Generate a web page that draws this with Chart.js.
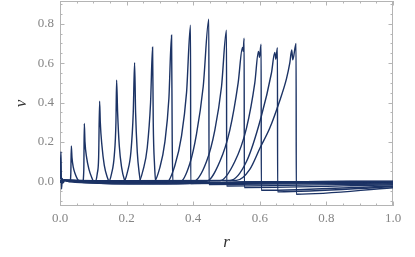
<!DOCTYPE html>
<html>
<head>
<meta charset="utf-8">
<script src="https://cdn.jsdelivr.net/npm/chart.js@4"></script>
<style>
  html, body { margin: 0; padding: 0; background: #fff; }
  #wrap { width: 415px; height: 257px; }
</style>
</head>
<body>
<div id="wrap"><canvas id="chart"></canvas></div>
<script>
// profiles v(r), one per time step as [r, v]
const curve00 = [[0, 0.01], [0.003, 0.15], [0.0045, -0.04], [0.007, 0.014], [0.01, -0.008], [0.014, 0.004], [0.03, -0.003], [0.2, -0.012], [0.35, -0.011], [0.6, -0.004], [1.0, -0.001]];
const curve01 = [[0, 0.004], [0.005, -0.008], [0.011, 0.004], [0.03, -0.002], [0.0325, 0.04], [0.034, 0.179], [0.036, 0.12], [0.040, 0.07], [0.046, 0.035], [0.052, 0.012], [0.06, -0.004], [0.2, -0.013], [0.35, -0.012], [0.6, -0.004], [1.0, -0.001]];
const curve02 = [[0, 0.004], [0.005, -0.007], [0.011, 0.004], [0.068, -0.003], [0.0715, 0.06], [0.073, 0.293], [0.075, 0.2], [0.08, 0.12], [0.087, 0.06], [0.095, 0.02], [0.103, -0.005], [0.25, -0.013], [0.38, -0.011], [0.6, -0.004], [1.0, -0.001]];
const curve03 = [[0, 0.004], [0.005, -0.008], [0.011, 0.004], [0.105, -0.004], [0.112, 0.04], [0.116, 0.12], [0.119, 0.407], [0.121, 0.3], [0.126, 0.18], [0.133, 0.08], [0.142, 0.02], [0.15, -0.006], [0.3, -0.012], [0.6, -0.004], [1.0, -0.002]];
const curve04 = [[0, 0.004], [0.005, -0.007], [0.011, 0.004], [0.145, -0.005], [0.155, 0.04], [0.163, 0.13], [0.168, 0.3], [0.170, 0.514], [0.173, 0.35], [0.178, 0.18], [0.185, 0.07], [0.193, 0.01], [0.2, -0.007], [0.32, -0.012], [0.6, -0.005], [1.0, -0.002]];
const curve05 = [[0, 0.004], [0.005, -0.008], [0.011, 0.004], [0.19, -0.007], [0.203, 0.05], [0.213, 0.15], [0.22, 0.35], [0.224, 0.603], [0.227, 0.35], [0.232, 0.15], [0.238, 0.04], [0.243, -0.008], [0.35, -0.012], [0.6, -0.005], [1.0, -0.002]];
const curve06 = [[0, 0.004], [0.005, -0.007], [0.011, 0.004], [0.235, -0.008], [0.25, 0.06], [0.262, 0.17], [0.272, 0.4], [0.278, 0.681], [0.28, 0.3], [0.284, 0.08], [0.288, -0.009], [0.4, -0.011], [0.7, -0.005], [1.0, -0.003]];
const curve07 = [[0, 0.004], [0.005, -0.008], [0.011, 0.004], [0.28, -0.008], [0.3, 0.07], [0.315, 0.2], [0.327, 0.42], [0.335, 0.742], [0.337, 0.2], [0.339, -0.009], [0.5, -0.009], [1.0, -0.004]];
const curve08 = [[0, 0.004], [0.005, -0.007], [0.011, 0.004], [0.2, -0.007], [0.32, -0.006], [0.345, 0.08], [0.365, 0.23], [0.38, 0.45], [0.392, 0.793], [0.3925, -0.012], [1.0, -0.006]];
const curve09 = [[0, 0.004], [0.005, -0.008], [0.011, 0.004], [0.2, -0.005], [0.36, -0.004], [0.39, 0.09], [0.41, 0.24], [0.43, 0.48], [0.447, 0.823], [0.4475, -0.017], [1.0, -0.009]];
const curve10 = [[0, 0.004], [0.005, -0.007], [0.011, 0.004], [0.2, -0.003], [0.40, -0.002], [0.44, 0.1], [0.465, 0.26], [0.485, 0.48], [0.50, 0.767], [0.5005, -0.024], [1.0, -0.013]];
const curve11 = [[0, 0.004], [0.005, -0.008], [0.011, 0.004], [0.2, -0.001], [0.44, 0.0], [0.48, 0.1], [0.51, 0.26], [0.535, 0.5], [0.548, 0.68], [0.55, 0.66], [0.553, 0.727], [0.5535, -0.032], [1.0, -0.018]];
const curve12 = [[0, 0.004], [0.005, -0.007], [0.011, 0.004], [0.2, 0.0], [0.48, 0.002], [0.525, 0.1], [0.56, 0.27], [0.585, 0.5], [0.596, 0.66], [0.599, 0.63], [0.604, 0.696], [0.6045, -0.046], [1.0, -0.024]];
const curve13 = [[0, 0.004], [0.005, -0.008], [0.011, 0.004], [0.2, 0.001], [0.51, 0.003], [0.56, 0.1], [0.603, 0.32], [0.635, 0.55], [0.645, 0.655], [0.648, 0.62], [0.653, 0.679], [0.6535, -0.054], [1.0, -0.028]];
const curve14 = [[0, 0.004], [0.005, -0.007], [0.011, 0.004], [0.2, 0.002], [0.53, 0.004], [0.57, 0.06], [0.601, 0.17], [0.63, 0.27], [0.658, 0.40], [0.68, 0.52], [0.69, 0.6], [0.696, 0.667], [0.699, 0.617], [0.709, 0.70], [0.7095, -0.066], [1.0, -0.033]];

const curves = [curve00, curve01, curve02, curve03, curve04, curve05, curve06, curve07,
                curve08, curve09, curve10, curve11, curve12, curve13, curve14];

const xTicks = [0, 0.2, 0.4, 0.6, 0.8, 1.0];
const yTicks = [0, 0.2, 0.4, 0.6, 0.8];
const xRange = [0, 1];
const yRange = [-0.126, 0.916];

const lineColor = '#1c3365';
const frameColor = '#b4b4b4';

// Mathematica style frame with ticks on all four sides, pointing inwards
const framePlugin = {
  id: 'frame',
  beforeDatasetsDraw(chart) {
    const ctx = chart.ctx;
    const a = chart.chartArea;
    const xs = chart.scales.x, ys = chart.scales.y;
    ctx.save();
    ctx.strokeStyle = frameColor;
    ctx.lineWidth = 1;
    ctx.strokeRect(Math.round(a.left) + 0.5, Math.round(a.top) + 0.5,
      Math.round(a.right - a.left) - 1, Math.round(a.bottom - a.top) - 1);
    ctx.beginPath();
    for (let v = xRange[0]; v <= xRange[1] + 1e-9; v += 0.05) {
      const major = xTicks.some(t => Math.abs(t - v) < 1e-6);
      const len = major ? 4.5 : 2.5;
      const px = Math.round(xs.getPixelForValue(v)) + 0.5;
      ctx.moveTo(px, a.bottom); ctx.lineTo(px, a.bottom - len);
      ctx.moveTo(px, a.top); ctx.lineTo(px, a.top + len);
    }
    for (let v = -0.1; v <= yRange[1]; v += 0.05) {
      const major = yTicks.some(t => Math.abs(t - v) < 1e-6);
      const len = major ? 4.5 : 2.5;
      const py = Math.round(ys.getPixelForValue(v)) + 0.5;
      ctx.moveTo(a.left, py); ctx.lineTo(a.left + len, py);
      ctx.moveTo(a.right, py); ctx.lineTo(a.right - len, py);
    }
    ctx.stroke();
    ctx.restore();
  }
};

const datasets = curves.map(c => ({
  data: c.map(p => ({ x: p[0], y: p[1] })),
  showLine: true,
  borderColor: lineColor,
  borderWidth: 1.4,
  pointRadius: 0,
  cubicInterpolationMode: 'monotone',
  fill: false
}));

const serif = "'Liberation Serif', 'DejaVu Serif', serif";
const tickFont = { family: serif, size: 13 };

new Chart(document.getElementById('chart'), {
  type: 'scatter',
  data: { datasets: datasets },
  options: {
    responsive: true,
    maintainAspectRatio: false,
    animation: false,
    layout: { padding: { top: 1, right: 22, bottom: 0, left: 0 } },
    scales: {
      x: {
        type: 'linear',
        min: xRange[0],
        max: xRange[1],
        afterFit: s => { s.height = 51; s.paddingLeft = 0; s.paddingRight = 0; },
        afterBuildTicks: s => { s.ticks = xTicks.map(v => ({ value: v })); },
        grid: { display: false, drawTicks: false },
        border: { display: false },
        ticks: {
          color: '#858585', font: tickFont, padding: 5, maxRotation: 0,
          callback: v => v.toFixed(1)
        },
        title: {
          display: true, text: 'r', color: '#333',
          font: { family: serif, size: 17, style: 'italic' },
          padding: { top: 0, bottom: 4 }
        }
      },
      y: {
        type: 'linear',
        min: yRange[0],
        max: yRange[1],
        afterFit: s => { s.width = 60; s.paddingTop = 0; s.paddingBottom = 0; },
        afterBuildTicks: s => { s.ticks = yTicks.map(v => ({ value: v })); },
        grid: { display: false, drawTicks: false },
        border: { display: false },
        ticks: {
          color: '#858585', font: tickFont, padding: 6,
          callback: v => v.toFixed(1)
        },
        title: {
          display: true, text: 'v', color: '#333',
          font: { family: serif, size: 17, style: 'italic' },
          padding: { top: 11, bottom: 0 }
        }
      }
    },
    plugins: {
      legend: { display: false },
      tooltip: { enabled: false }
    }
  },
  plugins: [framePlugin]
});
</script>
</body>
</html>
